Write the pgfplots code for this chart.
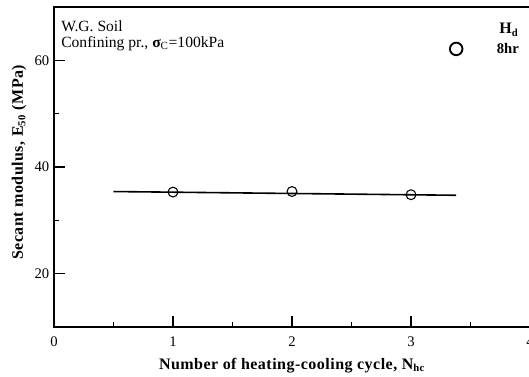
\documentclass[border=0pt]{standalone}
\usepackage{fontspec}
\setmainfont{Liberation Serif}
\usepackage{pgfplots}
\pgfplotsset{compat=1.18}
\begin{document}
\begin{tikzpicture}
\begin{axis}[
  scale only axis, width=357pt, height=240pt,
  xmin=0, xmax=4, ymin=10, ymax=70,
  xtick={0,1,2,3,4}, ytick={20,40,60},
  minor xtick={0.5,1.5,2.5,3.5}, minor ytick={30,50},
  tick align=inside, xtick pos=left, ytick pos=left,
  major tick length=8pt, minor tick length=4pt,
  every tick/.style={black, line width=1.2pt},
  axis line style={line width=1.5pt},
  tick label style={font=\fontsize{11}{13}\selectfont},
  xticklabel style={yshift=-4pt},
  /pgf/number format/assume math mode=true,
  xlabel={Number of heating-cooling cycle, N\textsubscript{hc}},
  ylabel={Secant modulus, E\textsubscript{50} (MPa)},
  label style={font=\fontsize{12}{14}\selectfont\bfseries\addfontfeature{LetterSpace=3}},
  xlabel style={at={(axis description cs:0.5,0)}, anchor=base, yshift=-31.5pt},
  ylabel style={at={(axis description cs:-0.0735,0.515)}, anchor=center},
  legend style={draw=none, fill=none, at={(rel axis cs:0.829,0.869)}, anchor=west,
    inner sep=0pt, font=\fontsize{11}{13}\selectfont\bfseries},
  legend image code/.code={\draw[black, line width=1.4pt] (0pt,0pt) circle (4.7pt);
    \path[draw=none] (-5.5pt,0pt) -- (28.5pt,0pt);},
]
\addplot[black, line width=1.2pt, forget plot] coordinates {(0.5,35.4) (3.38,34.7)};
\addplot[only marks, mark=o, mark size=3.7pt, mark options={black, line width=0.8pt}]
  coordinates {(1,35.3) (2,35.4) (3,34.8)};
\addlegendentry{8hr}
\node[anchor=base west, inner sep=0pt, font=\fontsize{11.7}{14}\selectfont] at (rel axis cs:0.0147,0.925) {W.G. Soil};
\node[anchor=base west, inner sep=0pt, font=\fontsize{11.7}{14}\selectfont] at (rel axis cs:0.0147,0.875)
  {Confining pr., {\bfseries σ}\textsubscript{C}=100kPa};
\node[anchor=base west, inner sep=0pt, font=\fontsize{12}{14}\selectfont\bfseries] at (rel axis cs:0.935,0.916)
  {H\textsubscript{d}};
\end{axis}
\pgfresetboundingbox
\useasboundingbox (-40.5pt,-36.75pt) rectangle (356.25pt,245.25pt);
\end{tikzpicture}
\end{document}
